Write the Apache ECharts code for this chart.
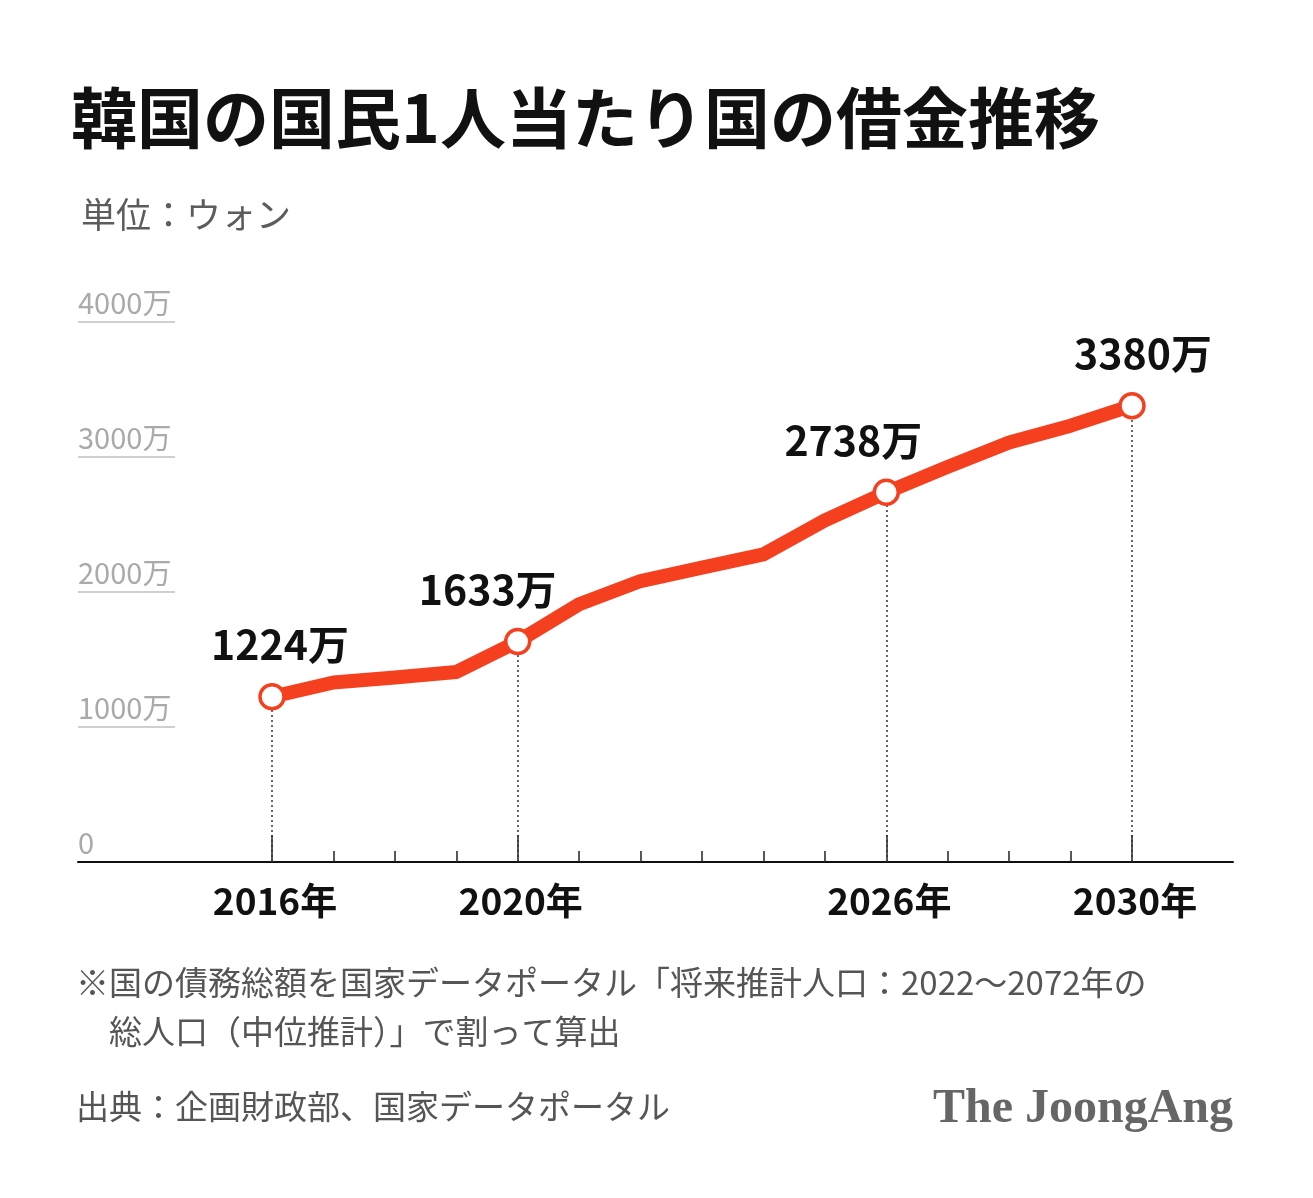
<!DOCTYPE html>
<html>
<head>
<meta charset="utf-8">
<title>韓国の国民1人当たり国の借金推移</title>
<script src="https://cdn.jsdelivr.net/npm/echarts@6/dist/echarts.min.js"></script>
<style>
  html, body { margin: 0; padding: 0; background: #fff; }
  #main { width: 1313px; height: 1198px; }
</style>
</head>
<body>
<div id="main"></div>
<script>
// データ（単位：万ウォン）
const years = ['2016', '2017', '2018', '2019', '2020', '2021', '2022', '2023',
               '2024', '2025', '2026', '2027', '2028', '2029', '2030'];
const debtPerCapita = [1224, 1330, 1367, 1407, 1633, 1909, 2081, 2181,
                       2279, 2530, 2738, 2927, 3107, 3232, 3380];
const labeledYears = ['2016', '2020', '2026', '2030'];
const yTicks = [0, 1000, 2000, 3000, 4000];

const FONT = '"Noto Sans CJK JP", "Noto Sans", sans-serif';
const RED = '#f5401f';

// ラベルの横ずれ（参考図に合わせる）
const labelShift = { '2016': 8, '2020': -30, '2026': -33, '2030': 11 };

let isMajor = function (idx) {
    return labeledYears.indexOf(years[idx]) >= 0;
};

let seriesData = debtPerCapita.map(function (v, i) {
    if (!isMajor(i)) return { value: v, symbol: 'none' };
    return {
        value: v,
        symbol: 'circle',
        symbolSize: 24,
        itemStyle: { color: '#fff', borderColor: RED, borderWidth: 3.5 },
        label: {
            show: true,
            position: 'top',
            distance: 18,
            offset: [labelShift[years[i]], 0],
            formatter: v + '万',
            fontFamily: FONT,
            fontSize: 41,
            fontWeight: 'bold',
            color: '#111'
        }
    };
});

let dropLines = [];
debtPerCapita.forEach(function (v, i) {
    if (isMajor(i)) dropLines.push([{ coord: [i, 0] }, { coord: [i, v] }]);
});

// 共通の縦位置
const gTop = 322, gHeight = 540;

let chart = echarts.init(document.getElementById('main'));
chart.setOption({
    backgroundColor: '#fff',
    animation: false,
    grid: [
        // 0: 目盛ラベル + 下線
        { left: 78, width: 97, top: gTop, height: gHeight },
        // 1: 横軸の線
        { left: 78, right: 80, top: gTop, height: gHeight },
        // 2: 小目盛
        { left: 272, right: 181, top: gTop, height: gHeight },
        // 3: 折れ線 + 大目盛 + 年ラベル
        { left: 272, right: 181, top: gTop, height: gHeight }
    ],
    xAxis: [
        { gridIndex: 0, type: 'value', show: false, min: 0, max: 1 },
        {
            gridIndex: 1, type: 'value', min: 0, max: 1,
            axisLine: { show: true, lineStyle: { color: '#111', width: 2 } },
            axisTick: { show: false }, axisLabel: { show: false }, splitLine: { show: false }
        },
        {
            gridIndex: 2, type: 'category', data: years, boundaryGap: false,
            axisLine: { show: false },
            axisTick: { show: true, inside: true, length: 11, interval: 0, lineStyle: { color: '#222', width: 1.5 } },
            axisLabel: { show: false }
        },
        {
            gridIndex: 3, type: 'category', data: years, boundaryGap: false,
            axisLine: { show: false },
            axisTick: {
                show: true, inside: true, length: 27,
                interval: function (idx) { return isMajor(idx); },
                lineStyle: { color: '#222', width: 1.5 }
            },
            axisLabel: {
                interval: function (idx) { return isMajor(idx); },
                formatter: function (v) { return v + '年'; },
                margin: 20,
                padding: [0, 0, 0, 6],
                fontFamily: FONT, fontSize: 37, fontWeight: 'bold', color: '#111'
            }
        }
    ],
    yAxis: [
        {
            gridIndex: 0, type: 'value', min: 0, max: 4000, interval: 1000,
            axisLine: { show: false }, axisTick: { show: false },
            splitLine: { show: true, lineStyle: { color: '#cfcfcf', width: 2 } },
            axisLabel: {
                inside: true, margin: 0, verticalAlign: 'bottom', padding: [0, 0, 5, 0],
                formatter: function (v) { return v === 0 ? '0' : v + '万'; },
                fontFamily: FONT, fontSize: 29, color: '#aaaaaa'
            }
        },
        { gridIndex: 1, type: 'value', min: 0, max: 4000, show: false },
        { gridIndex: 2, type: 'value', min: 0, max: 4000, show: false },
        { gridIndex: 3, type: 'value', min: 0, max: 4000, show: false }
    ],
    title: [{
        text: '韓国の国民1人当たり国の借金推移',
        left: 66, top: 80,
        textStyle: { fontFamily: FONT, fontSize: 66, fontWeight: 'bold', color: '#111' }
    }, {
        text: '単位：ウォン',
        left: 76, top: 192,
        textStyle: { fontFamily: FONT, fontSize: 35, fontWeight: 'normal', color: '#5c5c5c' }
    }],
    series: [{
        type: 'line',
        xAxisIndex: 3,
        yAxisIndex: 3,
        data: seriesData,
        showAllSymbol: true,
        lineStyle: { color: RED, width: 14, join: 'round', cap: 'round' },
        itemStyle: { color: RED },
        z: 3,
        markLine: {
            z: 1,
            silent: true,
            symbol: 'none',
            label: { show: false },
            lineStyle: { color: '#333', width: 1.5, type: [2, 3] },
            data: dropLines
        }
    }],
    graphic: [{
        type: 'text', left: 76, top: 958,
        style: {
            text: '※国の債務総額を国家データポータル「将来推計人口：2022～2072年の\n　総人口（中位推計）」で割って算出',
            font: 'normal 33px ' + FONT, fill: '#555', lineHeight: 49
        }
    }, {
        type: 'text', left: 76, top: 1090,
        style: { text: '出典：企画財政部、国家データポータル', font: 'normal 33px ' + FONT, fill: '#555' }
    }, {
        type: 'text', right: 80, top: 1086,
        style: { text: 'The JoongAng', font: 'bold 48px "Liberation Serif", "DejaVu Serif", serif', fill: '#666' }
    }]
});
</script>
</body>
</html>
